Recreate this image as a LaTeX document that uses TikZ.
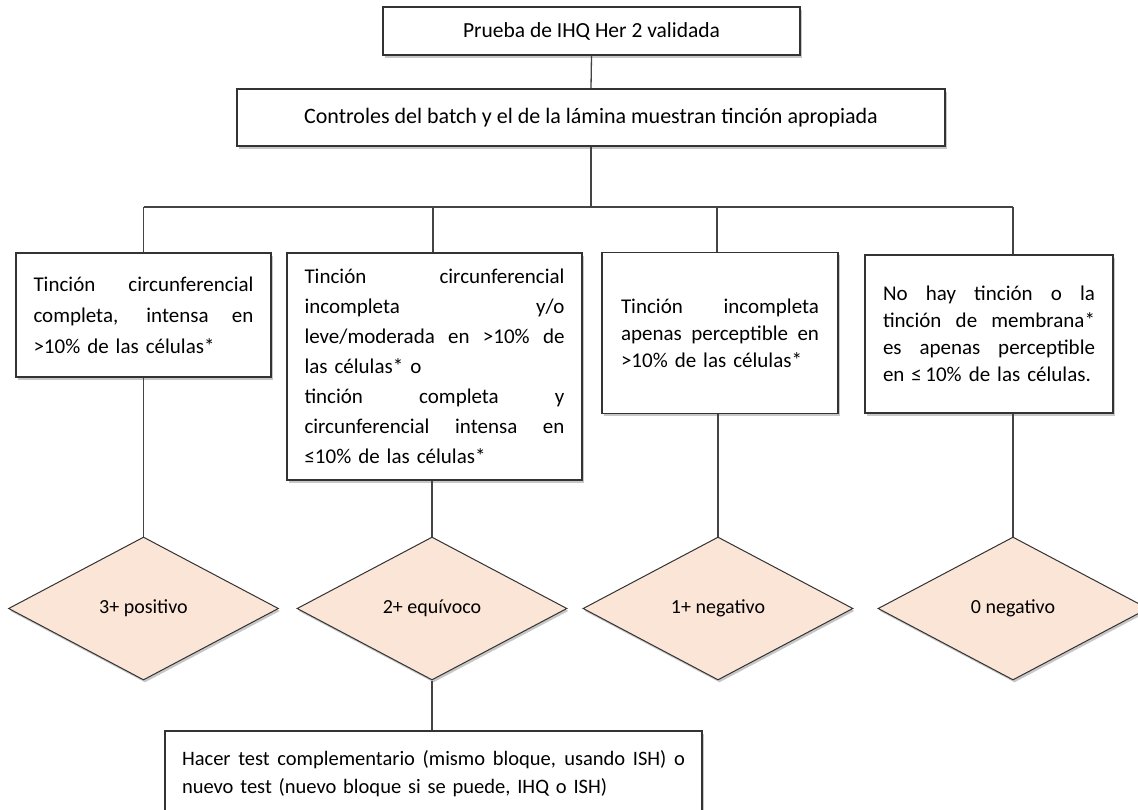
\documentclass[tikz,border=0pt]{standalone}
\usepackage{fontspec}
\setmainfont{Carlito}
\usetikzlibrary{shapes.geometric,shadows}
\definecolor{edgec}{HTML}{333333}
\definecolor{linec}{HTML}{444444}
\definecolor{peach}{HTML}{FBE5D6}
\newcommand\jl[2]{{\spaceskip=0pt\xspaceskip=0pt\makebox[#1][s]{#2}}}
\begin{document}
\begin{tikzpicture}[x=1pt,y=-1pt,
  shad/.style={drop shadow={shadow xshift=1.5pt,shadow yshift=-2.5pt,opacity=0.22,fill=black}},
  box/.style={rectangle,draw=edgec,line width=1.6pt,fill=white,inner sep=0pt,shad},
  txtbox/.style={box,align=left},
  dia/.style={diamond,draw=edgec,line width=1pt,fill=peach,inner sep=0pt,
    minimum width=270,minimum height=143,font=\fontsize{20}{22}\selectfont,shad},
  conn/.style={draw=linec,line width=1.3pt}]
\clip (0,0) rectangle (1138,809);
\fill[white] (0,0) rectangle (1138,809);

% top nodes
\node[box,minimum width=417,minimum height=48,font=\fontsize{21.5}{24}\selectfont] (top) at (591.5,31) {Prueba de IHQ Her 2 validada};
\node[box,minimum width=708,minimum height=57,font=\fontsize{22}{24}\selectfont] (ctrl) at (591,117.5) {Controles del batch y el de la lámina muestran tinción apropiada};

% criteria boxes
\node[txtbox,minimum width=255,minimum height=124,text width=220,font=\fontsize{21}{31}\selectfont] (b1) at (143.5,315)
  {\jl{220pt}{Tinción circunferencial}\\ \jl{220pt}{completa, intensa en}\\ >10\% de las células*};
\node[txtbox,minimum width=295,minimum height=227,text width=260,font=\fontsize{21}{30}\selectfont] (b2) at (434.5,366.5)
  {\jl{260pt}{Tinción circunferencial}\\ \jl{260pt}{incompleta y/o}\\ \jl{260pt}{leve/moderada en >10\% de}\\ las células* o\\ \jl{260pt}{tinción completa y}\\ \jl{260pt}{circunferencial intensa en}\\ ≤10\% de las células*};
\node[txtbox,minimum width=236,minimum height=161,text width=198,font=\fontsize{21}{27}\selectfont] (b3) at (720,333)
  {\jl{198pt}{Tinción incompleta}\\ \jl{198pt}{apenas perceptible en}\\ >10\% de las células*};
\node[txtbox,minimum width=248,minimum height=158,text width=212,font=\fontsize{21}{27}\selectfont] (b4) at (989,334)
  {\jl{212pt}{No hay tinción o la}\\ \jl{212pt}{tinción de membrana*}\\ \jl{212pt}{es apenas perceptible}\\ en ≤\,10\% de las células.};

% diamonds
\node[dia] (d1) at (143.5,608.5) {3+ positivo};
\node[dia] (d2) at (432,608.5) {2+ equívoco};
\node[dia] (d3) at (718,608.5) {1+ negativo};
\node[dia] (d4) at (1013,608.5) {0 negativo};

% bottom box
\node[txtbox,minimum width=537,minimum height=86,text width=503,font=\fontsize{20.5}{28}\selectfont] (bot) at (433.5,774)
  {\jl{503pt}{Hacer test complementario (mismo bloque, usando ISH) o}\\ nuevo test (nuevo bloque si se puede, IHQ o ISH)};

% branching coordinates
\coordinate (j1) at (143.5,207);
\coordinate (j2) at (433,207);
\coordinate (j3) at (717,207);
\coordinate (j4) at (1013,207);

% connectors
\draw[conn] (top.south) -- (ctrl.north);
\draw[conn] (ctrl.south) -- (ctrl.south |- j1);
\draw[conn] (j1) -- (j4);
\draw[conn] (j1) -- (j1 |- b1.north);
\draw[conn] (j2) -- (j2 |- b2.north);
\draw[conn] (j3) -- (j3 |- b3.north);
\draw[conn] (j4) -- (j4 |- b4.north);
\draw[conn] (d1.north |- b1.south) -- (d1.north);
\draw[conn] (d2.north |- b2.south) -- (d2.north);
\draw[conn] (d3.north |- b3.south) -- (d3.north);
\draw[conn] (d4.north |- b4.south) -- (d4.north);
\draw[conn] (d2.south) -- (d2.south |- bot.north);
\end{tikzpicture}
\end{document}
